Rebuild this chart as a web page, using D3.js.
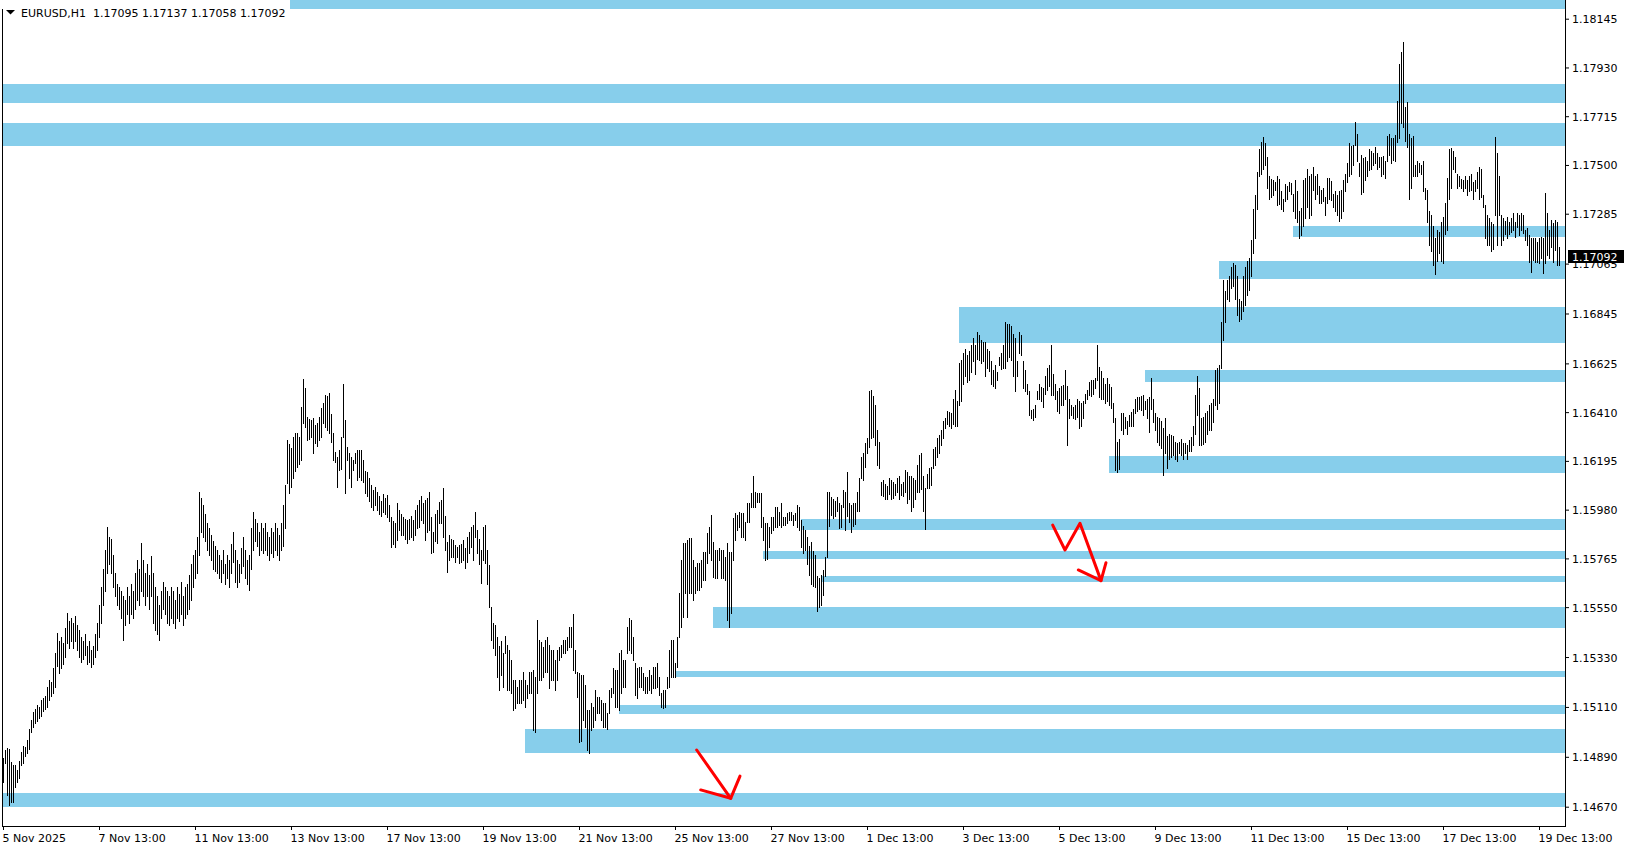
<!DOCTYPE html>
<html>
<head>
<meta charset="utf-8">
<script src="https://cdn.jsdelivr.net/npm/d3@7"></script>
<style>
  html, body { margin: 0; padding: 0; background: #ffffff; }
  svg { display: block; }
  text { font-family: "DejaVu Sans", Tahoma, sans-serif; font-size: 11px; fill: #000; }
</style>
</head>
<body>
<div id="chart"></div>
<script>
// EURUSD H1 bars, first bar 5 Nov 2025 13:00, one row per trading day.
// Prices are points above 1.14000 (1 point = 0.00001).
const basePrice = 1.14;
const dayHighs = [
  [886,920,929,924,867,854,854,832,872,911,938],
  [935,963,1011,1052,1087,1100,1120,1110,1140,1150,1160,1200,1230,1220,1280,1350,1435,1400,1420,1390,1460,1523,1490,1500],
  [1480,1510,1470,1450,1420,1400,1430,1380,1400,1360,1380,1430,1480,1560,1640,1720,1800,1905,1860,1850,1780,1700,1650,1640],
  [1620,1600,1580,1640,1600,1650,1620,1700,1760,1720,1832,1760,1700,1740,1690,1776,1700,1640,1600,1560,1620,1660,1640,1620],
  [1600,1640,1620,1580,1640,1610,1660,1600,1640,1650,1690,1740,1780,1800,1860,2059,2030,2000,1960,1920,1900,1870,1840,1820],
  [1800,1780,1760,1800,1740,1780,1760,1830,1880,1800,1760,1740,1810,1860,1800,1760,1780,1900,1971,1940,1920,1880,1920,1900],
  [1920,1880,1860,1900,1880,1920,1900,1870,1920,2000,2090,2286,2270,2250,2300,2320,2316,2300,2434,2556,2515,2390,2380,2375],
  [2383,2354,2360,2390,2427,2449,2486,2480,2493,2400,2317,2236,2214,2243,2300,2534,2375,2258,2230,2214,2199,2228,2243,2243],
  [2243,2200,2150,2148,2120,2090,2067,2080,2060,2040,2020,2050,2030,2045,2000,1949,1930,1920,2008,1979,1960,1949,1940,1934],
  [1940,1950,1934,1980,2000,2023,2040,2010,2023,2030,2059,1949,1880,1960,1979,2015,2023,2077,1950,1839,1868,1850,1846,1824],
  [1817,1824,1830,1846,1810,1861,1880,1905,1912,1968,1890,1850,1802,1905,1912,1800,1736,1552,1480,1470,1420,1380,1400,1350],
  [1423,1383,1361,1317,1229,1229,1200,1229,1229,1266,1229,1207,1266,1266,1273,1244,1493,1405,1398,1376,1405,1420,1383,1361],
  [1361,1317,1361,1376,1383,1405,1405,1420,1464,1464,1520,1361,1266,1258,1250,1251,1207,1097,1097,1126,1111,1185,1155,1155],
  [1141,1126,1126,1082,1185,1192,1280,1273,1273,1346,1361,1317,1317,1464,1501,1493,1420,1302,1280,1288,1288,1258,1244,1244],
  [1273,1251,1288,1288,1302,1244,1170,1185,1185,1244,1361,1405,1405,1302,1420,1611,1758,1832,1832,1846,1854,1854,1758,1729],
  [1743,1743,1758,1795,1795,1876,1905,1956,1839,1802,1802,1809,1802,1802,1773,1832,1795,1795,1942,1964,1956,1971,1964,1964],
  [1927,2008,2008,2052,2128,2059,2052,2052,2052,1949,1920,1920,1905,1949,1949,1993,1993,1971,2008,1949,1949,1964,1971,1971],
  [1956,1964,2000,1992,1934,1907,1890,1860,1820,1839,1797,1780,1687,1678,1690,1712,1771,2060,2060,2035,2026,2020,2035,2009],
  [2000,2068,2060,2145,2009,2000,2009,2010,2060,2119,2212,2230,2272,2297,2501,2509,2480,2441,2331,2280,2102,2110,2094,2085],
  [2119,2111,2100,2094,2119,2128,2094,2100,2153,2145,2128,2128,2120,2111,2179,2221,2230,2128,2077,2136,2162,2170,2246,2255],
  [2297,2310,2331,2373,2382,2416,2410,2407,2467,2509,2458,2628,2640,2670,2687,2662,2680,2704,2738,2704,2764,2750,2730,2721],
  [2721,2687,2680,2636,2594,2619,2586,2653,2670,2704,2806,2798,2798,2790,2755,2738,2636,2764,2750,2636,2594,2535,2501,2420],
  [2425,2441,2501,2535,2520,2518,2569,2603,2619,2708,2577,2535,2501,2518,2526,2530,2594,2526,2467,2441,2433,2440,2467,2458],
  [2450,2458,2492,2509,2543,2550,2552,2560,2708,2611,2590,2560,2535,2560,2535,2520,2450,2382,2280,2290,2407,2407,2390,2373],
  [2399,2410,2424,2467,2475,2475,2480,2484,2458,2467,2475,2560,2467,2407,2390,2382,2370,2340,2382,2306,2314,2310,2306,2280],
  [2272,2280,2290,2272,2272,2263,2289,2300,2348,2484,2569,2518,2382,2390,2407,2416,2441,2450,2467,2594,2603,2620,2806,2993],
  [2942,2993,3010,3052,3069,3060,3010,2908,2900,3010,3052,3077,3090,3171,3306,3366,3467,3569,3600,3623,3595,3535,3450,3440],
  [3434,3425,3450,3440,3383,3349,3417,3408,3425,3420,3374,3434,3383,3298,3310,3434,3442,3484,3450,3460,3493,3450,3459,3408],
  [3391,3400,3357,3442,3442,3430,3374,3383,3366,3383,3390,3434,3459,3510,3595,3585,3586,3688,3637,3510,3544,3530,3535,3518],
  [3569,3560,3552,3578,3552,3535,3535,3540,3518,3629,3636,3617,3617,3632,3782,3947,3998,4042,3756,3778,3636,3621,3627,3501],
  [3518,3510,3500,3518,3400,3391,3298,3280,3230,3179,3213,3205,3247,3272,3332,3442,3569,3574,3561,3535,3459,3450,3440,3434],
  [3450,3434,3450,3460,3425,3434,3467,3493,3480,3366,3323,3281,3264,3247,3240,3623,3552,3450,3281,3264,3255,3272,3247,3264],
  [3287,3250,3287,3280,3287,3280,3214,3221,3190,3177,3177,3177,3162,3177,3184,3177,3375,3287,3214,3258,3243,3258,3250,3137]
];
const dayLows = [
  [780,864,723,679,691,692,758,780,798,855,864],
  [895,905,925,999,1023,1040,1050,1060,1070,1090,1100,1110,1140,1160,1170,1200,1290,1260,1280,1300,1330,1390,1370,1400],
  [1370,1400,1360,1330,1310,1320,1340,1300,1310,1288,1300,1330,1360,1420,1480,1560,1620,1700,1740,1700,1640,1600,1560,1540],
  [1500,1405,1470,1520,1480,1520,1500,1540,1580,1560,1620,1600,1560,1600,1540,1600,1480,1450,1430,1403,1500,1540,1520,1480],
  [1470,1500,1480,1460,1500,1490,1520,1470,1500,1520,1540,1580,1640,1680,1700,1780,1880,1860,1840,1800,1780,1760,1720,1710],
  [1700,1680,1660,1700,1650,1680,1640,1700,1750,1660,1640,1660,1700,1730,1680,1650,1626,1720,1800,1840,1820,1780,1800,1790],
  [1800,1780,1760,1790,1770,1800,1780,1760,1800,1820,1900,2096,2052,2080,2120,2150,2170,2180,2199,2360,2346,2287,2290,2302],
  [2228,2272,2260,2287,2302,2361,2346,2330,2317,2280,2199,2190,2081,2155,2160,2302,2052,2199,2120,2081,2155,2184,2110,2125],
  [2110,2100,2052,2040,2020,1990,1980,2000,1979,1960,1950,1970,1960,1949,1930,1817,1830,1817,1846,1890,1870,1868,1850,1832],
  [1850,1860,1846,1870,1900,1905,1935,1920,1846,1880,1890,1787,1795,1840,1832,1920,1920,1861,1800,1707,1758,1770,1773,1751],
  [1773,1743,1750,1758,1721,1751,1790,1817,1758,1861,1787,1740,1655,1758,1743,1650,1552,1405,1370,1339,1244,1185,1250,1200],
  [1350,1185,1185,1170,1097,1104,1126,1126,1126,1141,1111,1148,1170,1170,1008,1001,1170,1229,1229,1244,1266,1266,1192,1229],
  [1229,1185,1229,1317,1332,1346,1346,1361,1376,1376,1273,1258,1155,957,960,1052,1023,920,905,1008,1023,1052,1082,1082],
  [1052,1023,1023,1011,1082,1155,1170,1111,1111,1097,1170,1199,1199,1346,1361,1346,1317,1163,1148,1199,1199,1185,1170,1170],
  [1185,1170,1192,1192,1199,1163,1111,1107,1111,1192,1199,1244,1244,1244,1288,1420,1464,1508,1611,1508,1611,1611,1582,1611],
  [1626,1626,1640,1670,1670,1743,1787,1758,1685,1677,1677,1758,1677,1677,1670,1493,1464,1523,1758,1846,1890,1905,1861,1861],
  [1846,1927,1927,1993,1993,1993,2015,2015,1905,1846,1758,1762,1817,1876,1890,1905,1905,1912,1905,1912,1912,1920,1934,1934],
  [1912,1934,1905,1890,1817,1788,1800,1740,1690,1653,1645,1640,1531,1551,1560,1602,1687,1771,1907,1958,1941,1950,1975,1899],
  [1905,1992,1890,1950,1924,1882,1907,1915,1975,1975,2119,2110,2170,2229,2255,2297,2300,2263,2179,2162,2043,2040,2026,2026],
  [2051,2026,2030,2043,2060,2026,2043,2040,2060,2009,2026,1975,1990,2026,2060,2060,2070,1975,1894,2077,2077,2090,2162,2179],
  [2212,2230,2263,2297,2340,2356,2350,2340,2356,2348,2348,2441,2460,2535,2569,2543,2550,2586,2636,2577,2645,2640,2628,2636],
  [2569,2603,2590,2535,2526,2518,2552,2619,2600,2603,2603,2636,2653,2640,2569,2501,2569,2670,2660,2518,2501,2492,2399,2385],
  [2375,2390,2467,2467,2460,2433,2492,2509,2526,2484,2484,2467,2416,2407,2441,2440,2467,2263,2382,2399,2382,2380,2390,2340],
  [2350,2382,2450,2467,2484,2480,2492,2518,2552,2475,2470,2467,2450,2458,2441,2430,2365,2153,2145,2160,2331,2314,2340,2314],
  [2348,2350,2348,2407,2416,2424,2420,2399,2424,2382,2323,2424,2365,2331,2280,2263,2250,2133,2229,2162,2204,2210,2221,2204],
  [2196,2229,2220,2204,2229,2204,2238,2240,2263,2314,2399,2263,2263,2270,2280,2314,2331,2330,2365,2441,2424,2450,2603,2730],
  [2806,2908,2900,2959,2968,2908,2840,2811,2820,2857,2882,2925,2950,3010,3111,3179,3306,3450,3460,3484,3501,3400,3349,3360],
  [3366,3391,3323,3330,3306,3298,3340,3349,3383,3370,3298,3264,3247,3179,3190,3230,3264,3315,3264,3280,3391,3349,3374,3332],
  [3332,3340,3281,3332,3349,3345,3315,3298,3281,3255,3265,3298,3383,3425,3450,3460,3501,3586,3518,3450,3374,3380,3434,3450],
  [3476,3480,3501,3510,3484,3493,3450,3460,3442,3518,3544,3510,3520,3518,3603,3620,3686,3669,3607,3580,3349,3400,3450,3450],
  [3450,3467,3460,3383,3349,3247,3145,3120,3060,3018,3077,3111,3077,3069,3196,3213,3349,3400,3484,3467,3400,3408,3400,3383],
  [3400,3366,3383,3390,3349,3383,3400,3349,3360,3315,3179,3145,3145,3120,3130,3281,3145,3281,3145,3171,3196,3179,3196,3205],
  [3214,3184,3228,3191,3214,3199,3169,3147,3070,3030,3081,3074,3074,3066,3088,3022,3066,3103,3088,3140,3074,3125,3060,3058]
];

// header (last bar OHLC)
const symbolLabel = "EURUSD,H1";
const lastOHLC = [1.17095, 1.17137, 1.17058, 1.17092];

// price axis labels
const priceTicks = [1.18145, 1.17930, 1.17715, 1.17500, 1.17285, 1.17065, 1.16845, 1.16625,
  1.16410, 1.16195, 1.15980, 1.15765, 1.15550, 1.15330, 1.15110, 1.14890, 1.14670];

// time axis labels, every 48 bars
const timeTickBars = [0, 48, 96, 144, 192, 240, 288, 336, 384, 432, 480, 528, 576, 624, 672, 720, 768];
const timeLabels = ["5 Nov 2025", "7 Nov 13:00", "11 Nov 13:00", "13 Nov 13:00", "17 Nov 13:00",
  "19 Nov 13:00", "21 Nov 13:00", "25 Nov 13:00", "27 Nov 13:00", "1 Dec 13:00", "3 Dec 13:00",
  "5 Dec 13:00", "9 Dec 13:00", "11 Dec 13:00", "15 Dec 13:00", "17 Dec 13:00", "19 Dec 13:00"];

// zones: first bar, upper price, lower price (all run to the right edge)
const zoneStart = [-0.5, -0.5, -0.5, 645, 608, 478, 571, 553, 399, 380, 409, 355, 336, 308, 261, -0.5];
const zoneTop = [1.18227, 1.17857, 1.17684, 1.17231, 1.17077, 1.16875, 1.16596, 1.16217,
  1.15939, 1.15798, 1.15688, 1.15552, 1.15270, 1.15118, 1.15013, 1.14732];
const zoneBottom = [1.18186, 1.17775, 1.17585, 1.17184, 1.16996, 1.16714, 1.16544, 1.16140,
  1.15890, 1.15761, 1.15661, 1.15457, 1.15242, 1.15078, 1.14908, 1.14670];

// hand drawn red arrows: [bar, price]
const arrowLines = [
  [[346.85, 1.14920], [363.85, 1.14707]],
  [[348.85, 1.14744], [363.85, 1.14707], [368.5, 1.14805]],
  [[524.85, 1.15912], [531, 1.15802], [538.5, 1.15920], [549, 1.15667]],
  [[537.65, 1.15714], [549, 1.15667], [551.5, 1.15746]]
];

const W = 1629, H = 850;
const plotLeft = 2, plotRight = 1565, plotBottom = 826;

const highs = dayHighs.flat().map(v => basePrice + v / 1e5);
const lows = dayLows.flat().map(v => basePrice + v / 1e5);
const bars = highs.map((h, i) => ({ i: i, h: h, l: lows[i] }));

const svg = d3.select("#chart").append("svg")
  .attr("width", W).attr("height", H);

svg.append("rect").attr("width", W).attr("height", H).attr("fill", "#fff");

const x = d3.scaleLinear().domain([0, bars.length - 1]).range([3, 3 + 2 * (bars.length - 1)]);
const y = d3.scaleLinear().domain([1.14670, 1.18145]).range([806.7, 18.7]);

svg.append("clipPath").attr("id", "plot")
  .append("rect").attr("x", plotLeft).attr("y", 0)
  .attr("width", plotRight - plotLeft).attr("height", plotBottom);

const plot = svg.append("g").attr("clip-path", "url(#plot)");

// zones
plot.append("g").selectAll("rect")
  .data(zoneStart)
  .enter().append("rect")
  .attr("x", d => Math.max(plotLeft, Math.round(x(d))))
  .attr("y", (d, k) => y(zoneTop[k]))
  .attr("width", d => plotRight - Math.max(plotLeft, Math.round(x(d))))
  .attr("height", (d, k) => y(zoneBottom[k]) - y(zoneTop[k]))
  .attr("fill", "#87ceeb")
  .attr("shape-rendering", "crispEdges");

// bars
plot.append("g").selectAll("line")
  .data(bars)
  .enter().append("line")
  .attr("x1", d => x(d.i) + 0.5)
  .attr("x2", d => x(d.i) + 0.5)
  .attr("y1", d => Math.round(y(d.h)))
  .attr("y2", d => Math.round(y(d.l)) + 1)
  .attr("stroke", "#000")
  .attr("stroke-width", 1)
  .attr("shape-rendering", "crispEdges");

// red arrows
const arrowPath = d3.line().x(d => x(d[0])).y(d => y(d[1]));
plot.append("g").selectAll("path")
  .data(arrowLines)
  .enter().append("path")
  .attr("d", arrowPath)
  .attr("fill", "none")
  .attr("stroke", "#ff0000")
  .attr("stroke-width", 3)
  .attr("stroke-linecap", "round")
  .attr("stroke-linejoin", "round");

// frame
svg.append("line").attr("x1", plotLeft + 0.5).attr("x2", plotLeft + 0.5)
  .attr("y1", 0).attr("y2", plotBottom + 1).attr("stroke", "#000");
svg.append("line").attr("x1", plotRight + 0.5).attr("x2", plotRight + 0.5)
  .attr("y1", 0).attr("y2", plotBottom + 1).attr("stroke", "#000");
svg.append("line").attr("x1", plotLeft).attr("x2", plotRight + 1)
  .attr("y1", plotBottom + 0.5).attr("y2", plotBottom + 0.5).attr("stroke", "#000");

// price axis
const yAxis = svg.append("g")
  .attr("transform", `translate(${plotRight},0)`)
  .call(d3.axisRight(y).tickValues(priceTicks).tickFormat(d3.format(".5f")).tickSize(4).tickSizeOuter(0));
yAxis.select(".domain").remove();
yAxis.selectAll("text")
  .attr("x", 7)
  .attr("dy", null)
  .attr("y", 4)
  .style("font-family", "'DejaVu Sans', Tahoma, sans-serif")
  .style("font-size", "11px");

// time axis
const xAxis = svg.append("g")
  .attr("transform", `translate(0,${plotBottom})`)
  .call(d3.axisBottom(x).tickValues(timeTickBars).tickFormat((d, k) => timeLabels[k]).tickSize(4).tickSizeOuter(0));
xAxis.select(".domain").remove();
xAxis.selectAll("text")
  .attr("text-anchor", "start")
  .attr("x", -1)
  .attr("y", 16)
  .attr("dy", null)
  .style("font-family", "'DejaVu Sans', Tahoma, sans-serif")
  .style("font-size", "11px");

// current price label
const lastClose = lastOHLC[3];
svg.append("rect")
  .attr("x", plotRight + 3).attr("y", Math.round(y(lastClose)) - 7)
  .attr("width", 56).attr("height", 13)
  .attr("fill", "#000");
svg.append("text")
  .attr("x", plotRight + 7).attr("y", Math.round(y(lastClose)) + 4)
  .style("fill", "#fff")
  .text(d3.format(".5f")(lastClose));

// header
svg.append("rect").attr("x", 0).attr("y", 0).attr("width", 290).attr("height", 9).attr("fill", "#fff");
svg.append("path").attr("d", "M6,10L15,10L10.5,14.5Z").attr("fill", "#000");
svg.append("text").attr("x", 21).attr("y", 17).text(symbolLabel);
svg.append("text").attr("x", 93).attr("y", 17).text(lastOHLC.map(d3.format(".5f")).join(" "));
</script>
</body>
</html>
